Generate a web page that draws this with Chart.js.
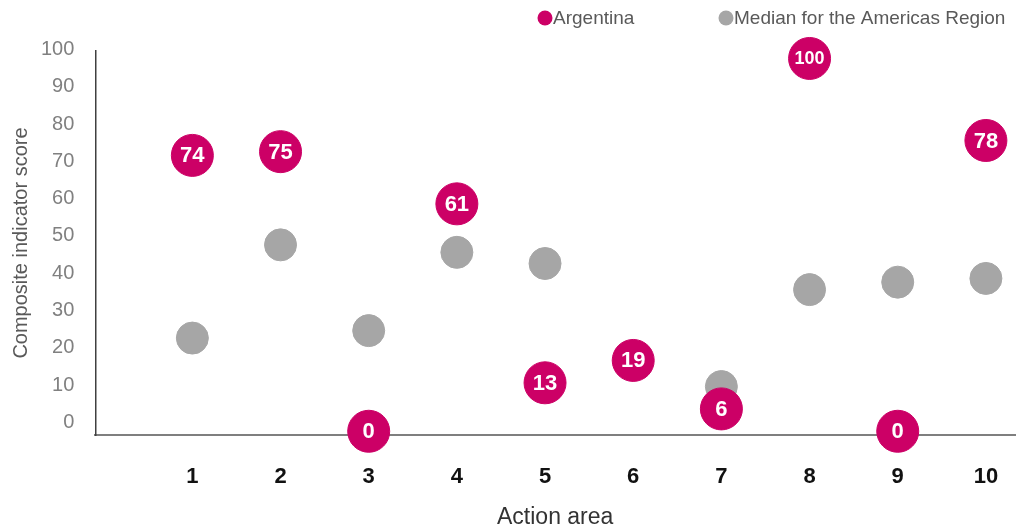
<!DOCTYPE html>
<html>
<head>
<meta charset="utf-8">
<script src="https://cdn.jsdelivr.net/npm/chart.js@4.4.1/dist/chart.umd.min.js"></script>
<style>
  html, body { margin: 0; padding: 0; background: #fff; }
  #wrap { width: 1019px; height: 531px; }
</style>
</head>
<body>
<div id="wrap"><canvas id="chart"></canvas></div>
<script>
// Action areas 1-10, Argentina vs regional median
const areas = [1, 2, 3, 4, 5, 6, 7, 8, 9, 10];
const argentina = [74, 75, 0, 61, 13, 19, 6, 100, 0, 78];
const mediana = [25, 50, 27, 48, 45, null, 12, 38, 40, 41];
const yTicks = [0, 10, 20, 30, 40, 50, 60, 70, 80, 90, 100];

const MAGENTA = "#cc0066";
const GRIS = "#a6a6a6";
const FUENTE = "'Liberation Sans', Arial, sans-serif";

// etiquetas blancas dentro de los círculos de Argentina
const etiquetas = {
    id: "etiquetas",
    afterDatasetsDraw(chart) {
        const ctx = chart.ctx;
        const meta = chart.getDatasetMeta(0);
        ctx.save();
        ctx.fillStyle = "#ffffff";
        ctx.textAlign = "center";
        ctx.textBaseline = "middle";
        meta.data.forEach((el, i) => {
            const txt = String(argentina[i]);
            ctx.font = (txt.length > 2 ? "bold 18px " : "bold 22px ") + FUENTE;
            ctx.fillText(txt, el.x, el.y + 1);
        });
        ctx.restore();
    },
};

// leyenda arriba a la derecha, circulo pegado al texto
const leyenda = {
    id: "leyenda",
    afterDraw(chart) {
        const ctx = chart.ctx;
        const items = [
            { text: chart.data.datasets[0].label, color: MAGENTA, x: 545 },
            { text: chart.data.datasets[1].label, color: GRIS, x: 726 },
        ];
        ctx.save();
        ctx.font = "19px " + FUENTE;
        ctx.textBaseline = "middle";
        ctx.textAlign = "left";
        items.forEach((it) => {
            ctx.beginPath();
            ctx.fillStyle = it.color;
            ctx.arc(it.x, 18, 7.5, 0, Math.PI * 2);
            ctx.fill();
            ctx.fillStyle = "#595959";
            ctx.fillText(it.text, it.x + 8, 19);
        });
        ctx.restore();
    },
};

new Chart(document.getElementById("chart"), {
    type: "scatter",
    data: {
        datasets: [
            {
                label: "Argentina",
                data: areas.map((a, i) => ({ x: a, y: argentina[i] })),
                backgroundColor: MAGENTA,
                borderColor: MAGENTA,
                pointRadius: 21,
                pointHoverRadius: 21,
                clip: false,
            },
            {
                label: "Median for the Americas Region",
                data: areas.map((a, i) => ({ x: a, y: mediana[i] })),
                backgroundColor: GRIS,
                borderColor: GRIS,
                pointRadius: 16,
                pointHoverRadius: 16,
                clip: false,
            },
        ],
    },
    options: {
        responsive: true,
        maintainAspectRatio: false,
        animation: false,
        layout: { autoPadding: false, padding: { top: 51, left: 5, right: 4, bottom: 0 } },
        plugins: {
            legend: { display: false },
            tooltip: { enabled: false },
        },
        scales: {
            x: {
                type: "linear",
                min: -0.1,
                max: 10.33,
                afterBuildTicks: (axis) => {
                    axis.ticks = areas.map((v) => ({ value: v }));
                },
                // ticks invisibles, solo para dar espacio a las etiquetas
                grid: { display: false, drawTicks: true, tickLength: 25, tickColor: "rgba(0,0,0,0)" },
                border: { display: true, color: "#7f7f7f", width: 2 },
                ticks: {
                    color: "#111111",
                    font: { family: FUENTE, size: 22, weight: "bold" },
                    padding: 4,
                    maxRotation: 0,
                    autoSkip: false,
                },
                title: {
                    display: true,
                    text: "Action area",
                    color: "#333333",
                    font: { family: FUENTE, size: 23 },
                    padding: { top: 9, bottom: 0 },
                },
            },
            y: {
                min: -1,
                max: 102,
                afterBuildTicks: (axis) => {
                    axis.ticks = yTicks.map((v) => ({ value: v }));
                },
                grid: { display: false, drawTicks: true, tickLength: 17, tickColor: "rgba(0,0,0,0)" },
                border: { display: true, color: "#404040", width: 1.5 },
                ticks: {
                    color: "#808080",
                    font: { family: FUENTE, size: 20 },
                    padding: 4,
                    labelOffset: -9,
                },
                title: {
                    display: true,
                    text: "Composite indicator score",
                    color: "#595959",
                    font: { family: FUENTE, size: 20 },
                    padding: { top: 4, bottom: 4 },
                },
            },
        },
    },
    plugins: [etiquetas, leyenda],
});
</script>
</body>
</html>
